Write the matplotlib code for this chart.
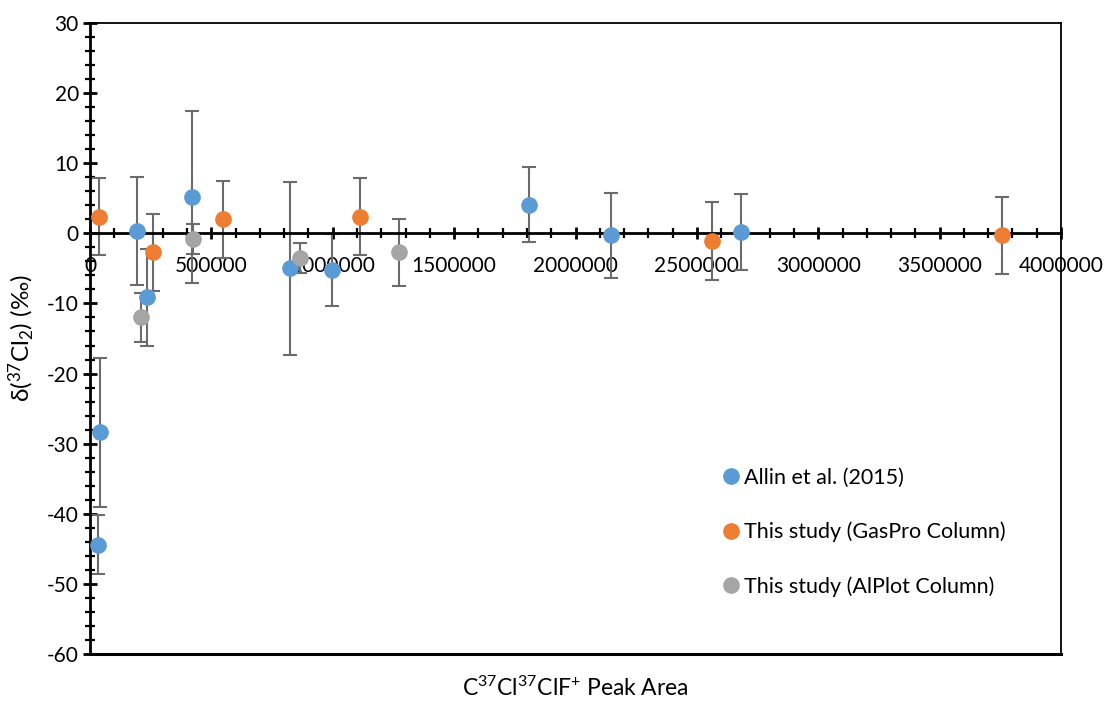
import matplotlib
matplotlib.use("Agg")
import matplotlib.pyplot as plt
from matplotlib.ticker import MultipleLocator

plt.rcParams['font.family'] = ['Lato', 'DejaVu Sans']
plt.rcParams['mathtext.fontset'] = 'custom'
plt.rcParams['mathtext.rm'] = 'Lato'
plt.rcParams['mathtext.it'] = 'Lato:italic'
plt.rcParams['axes.unicode_minus'] = False

# Allin et al. (2015)
allin_x = [40000, 35000, 195000, 235000, 420000, 825000, 995000, 1810000, 2145000, 2680000]
allin_y = [-28.4, -44.4, 0.4, -9.1, 5.2, -5.0, -5.2, 4.1, -0.3, 0.2]
allin_err = [10.6, 4.2, 7.7, 6.9, 12.3, 12.3, 5.1, 5.4, 6.0, 5.4]

# This study, GasPro column
gaspro_x = [38000, 261000, 549000, 1112000, 2563000, 3756000]
gaspro_y = [2.4, -2.7, 2.0, 2.4, -1.1, -0.3]
gaspro_err = [5.5, 5.5, 5.5, 5.5, 5.5, 5.5]

# This study, AlPlot column
alplot_x = [210000, 423000, 865000, 1273000]
alplot_y = [-12.0, -0.8, -3.5, -2.7]
alplot_err = [3.5, 2.2, 2.1, 4.8]

series = [
    (allin_x, allin_y, allin_err, '#5B9BD5', 'Allin et al. (2015)'),
    (gaspro_x, gaspro_y, gaspro_err, '#ED7D31', 'This study (GasPro Column)'),
    (alplot_x, alplot_y, alplot_err, '#A5A5A5', 'This study (AlPlot Column)'),
]

fig = plt.figure(figsize=(11.06, 7.02), dpi=100)
ax = fig.add_axes([90 / 1106, 48 / 702, 971 / 1106, 631 / 702])

for x, y, err, color, label in series:
    ax.errorbar(x, y, yerr=err, fmt='none', ecolor='#6b6b6b', elinewidth=1.5,
                capsize=5, capthick=1.5, zorder=2)
for x, y, err, color, label in series:
    ax.plot(x, y, 'o', color=color, markersize=11, label=label, zorder=3)

ax.set_xlim(0, 4000000)
ax.set_ylim(-60, 30)

# x axis crosses at zero, box frame around the plot area
ax.spines['bottom'].set_position(('data', 0))
ax.spines['bottom'].set_linewidth(2)
ax.spines['left'].set_linewidth(2)
for side in ['top', 'right']:
    ax.spines[side].set_linewidth(1.3)
ax.plot([0, 1], [0, 0], transform=ax.transAxes, color='black', lw=2.2,
        clip_on=False, zorder=5)

ax.xaxis.set_major_locator(MultipleLocator(500000))
ax.xaxis.set_minor_locator(MultipleLocator(100000))
ax.yaxis.set_major_locator(MultipleLocator(10))
ax.yaxis.set_minor_locator(MultipleLocator(2))

ax.tick_params(axis='x', which='major', direction='inout', length=9, width=2,
               pad=12, labelsize=15)
ax.tick_params(axis='x', which='minor', direction='inout', length=7, width=1.6)
ax.tick_params(axis='y', which='major', direction='inout', length=10, width=2,
               pad=3, labelsize=15)
ax.tick_params(axis='y', which='minor', direction='inout', length=7, width=1.6)
ax.ticklabel_format(axis='x', style='plain', useOffset=False)

ax.set_xlabel(r'C$^{37}$Cl$^{37}$ClF$^{+}$ Peak Area', fontsize=16.5)
ax.xaxis.set_label_coords(0.5, -0.035)
ax.set_ylabel(r'δ($^{37}$Cl$_2$) (‰)', fontsize=17.5)
ax.yaxis.set_label_coords(-0.056, 0.5)

ax.legend(loc='center left', bbox_to_anchor=(0.645, 0.193), frameon=False,
          fontsize=15.5, handlelength=0.6, handletextpad=0.3, labelspacing=1.58,
          numpoints=1, borderaxespad=0)

fig.savefig('out.png', dpi=100)
